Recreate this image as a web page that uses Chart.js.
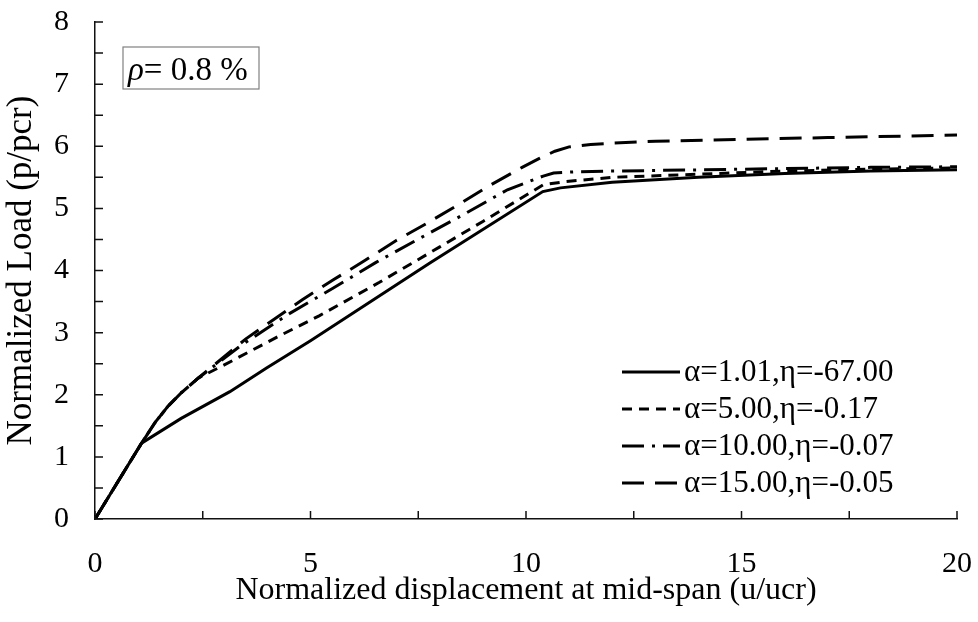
<!DOCTYPE html>
<html>
<head>
<meta charset="utf-8">
<script src="https://cdn.jsdelivr.net/npm/chart.js@4.4.0/dist/chart.umd.min.js"></script>
<style>
  html, body { margin: 0; padding: 0; background: #fff; }
  #wrap { width: 978px; height: 622px; }
</style>
</head>
<body>
<div id="wrap"><canvas id="chart"></canvas></div>
<script>
// data
const seriesLabels = ['α=1.01,η=-67.00', 'α=5.00,η=-0.17', 'α=10.00,η=-0.07', 'α=15.00,η=-0.05'];

const solidX = [0, 1.08, 2.0, 3.13, 3.98, 5.0, 7.77, 10.39, 10.8, 12, 14, 16, 18, 20];
const solidY = [0, 1.22, 1.62, 2.05, 2.43, 2.87, 4.12, 5.27, 5.33, 5.42, 5.50, 5.56, 5.60, 5.62];

const dashX = [0, 1.08, 1.4, 1.7, 2.0, 2.4, 3.0, 4.2, 5.2, 6.6, 8.0, 9.0, 10.4, 10.9, 12, 14, 16, 18, 20];
const dashY = [0, 1.22, 1.56, 1.82, 2.03, 2.27, 2.48, 2.92, 3.27, 3.81, 4.38, 4.79, 5.38, 5.43, 5.50, 5.55, 5.60, 5.63, 5.65];

const dashDotX = [0, 1.08, 1.4, 1.7, 2.0, 2.4, 3.4, 4.52, 5.51, 6.52, 7.54, 8.55, 9.57, 10.4, 10.64, 11.2, 12, 14, 16, 18, 20];
const dashDotY = [0, 1.22, 1.56, 1.82, 2.03, 2.27, 2.80, 3.31, 3.71, 4.13, 4.52, 4.90, 5.30, 5.52, 5.57, 5.59, 5.60, 5.62, 5.64, 5.66, 5.67];

const longDashX = [0, 1.08, 1.4, 1.7, 2.0, 2.4, 3.5, 4.81, 5.53, 6.26, 6.98, 7.70, 8.43, 9.16, 9.91, 10.3, 10.67, 11.0, 11.5, 12, 13, 15, 17, 20];
const longDashY = [0, 1.22, 1.56, 1.82, 2.03, 2.27, 2.90, 3.53, 3.85, 4.16, 4.48, 4.76, 5.06, 5.37, 5.66, 5.80, 5.92, 5.99, 6.03, 6.05, 6.08, 6.11, 6.14, 6.18];

const xTicks = [0, 5, 10, 15, 20];
const yTicks = [0, 1, 2, 3, 4, 5, 6, 7, 8];

const serif = '"Liberation Serif", "Times New Roman", serif';

function pts(xs, ys) {
    return xs.map((x, i) => ({ x: x, y: ys[i] }));
}

function makeSet(label, xs, ys, dash) {
    return {
        label: label,
        data: pts(xs, ys),
        borderColor: '#000',
        borderWidth: 3,
        borderDash: dash,
        pointRadius: 0,
        tension: 0,
        fill: false
    };
}

// inside tick marks, like the original figure
const innerTicks = {
    id: 'innerTicks',
    afterDraw(chart) {
        const ctx = chart.ctx;
        const xs = chart.scales.x;
        const ys = chart.scales.y;
        const len = 8;
        ctx.save();
        ctx.strokeStyle = '#111';
        ctx.lineWidth = 1.5;
        ctx.setLineDash([]);
        ctx.beginPath();
        xs.ticks.forEach(t => {
            const px = xs.getPixelForValue(t.value);
            ctx.moveTo(px, ys.bottom);
            ctx.lineTo(px, ys.bottom - len);
        });
        ys.ticks.forEach(t => {
            const py = ys.getPixelForValue(t.value);
            ctx.moveTo(xs.left, py);
            ctx.lineTo(xs.left + len, py);
        });
        ctx.stroke();
        ctx.restore();
    }
};

// legend in the lower right of the plot
const lineLegend = {
    id: 'lineLegend',
    afterDraw(chart, args, opts) {
        const ctx = chart.ctx;
        ctx.save();
        ctx.font = opts.fontSize + 'px ' + serif;
        ctx.textBaseline = 'middle';
        ctx.textAlign = 'left';
        ctx.fillStyle = '#000';
        chart.data.datasets.forEach((ds, i) => {
            const y = opts.top + i * opts.rowGap;
            ctx.beginPath();
            ctx.setLineDash(ds.borderDash || []);
            ctx.lineWidth = ds.borderWidth;
            ctx.strokeStyle = ds.borderColor;
            ctx.moveTo(opts.left, y);
            ctx.lineTo(opts.left + opts.lineLen, y);
            ctx.stroke();
            ctx.fillText(ds.label, opts.left + opts.lineLen + 4, y + 1);
        });
        ctx.restore();
    }
};

// boxed note "ρ = 0.8 %"
const noteBox = {
    id: 'noteBox',
    afterDraw(chart, args, opts) {
        const ctx = chart.ctx;
        ctx.save();
        ctx.strokeStyle = '#808080';
        ctx.lineWidth = 1.2;
        ctx.setLineDash([]);
        ctx.strokeRect(opts.x, opts.y, opts.w, opts.h);
        ctx.fillStyle = '#000';
        ctx.textBaseline = 'alphabetic';
        ctx.font = 'italic ' + opts.fontSize + 'px ' + serif;
        ctx.fillText('ρ', opts.x + 5, opts.y + 33);
        const w = ctx.measureText('ρ').width;
        ctx.font = opts.fontSize + 'px ' + serif;
        ctx.fillText('= 0.8 %', opts.x + 5 + w, opts.y + 33);
        ctx.restore();
    }
};

new Chart(document.getElementById('chart'), {
    type: 'line',
    data: {
        datasets: [
            makeSet(seriesLabels[0], solidX, solidY, []),
            makeSet(seriesLabels[1], dashX, dashY, [10, 7]),
            makeSet(seriesLabels[2], dashDotX, dashDotY, [22, 8, 3, 8]),
            makeSet(seriesLabels[3], longDashX, longDashY, [22, 11])
        ]
    },
    options: {
        responsive: true,
        maintainAspectRatio: false,
        animation: false,
        devicePixelRatio: 1,
        layout: {
            padding: { top: 22, right: 21, left: 0, bottom: 0 }
        },
        plugins: {
            legend: { display: false },
            tooltip: { enabled: false },
            lineLegend: { left: 622, top: 372, rowGap: 37, lineLen: 58, fontSize: 31 },
            noteBox: { x: 123, y: 47, w: 136, h: 42, fontSize: 33 }
        },
        scales: {
            x: {
                type: 'linear',
                min: 0,
                max: 20,
                afterFit: function(scale) {
                    scale.height = 103;
                    scale.paddingLeft = 0;
                    scale.paddingRight = 0;
                },
                border: { display: true, color: '#111', width: 1.5 },
                grid: { display: false, drawTicks: false },
                ticks: {
                    stepSize: 2.5,
                    autoSkip: false,
                    maxRotation: 0,
                    padding: 27,
                    color: '#000',
                    font: { family: serif, size: 30 },
                    callback: function(value) {
                        return xTicks.includes(value) ? String(value) : '';
                    }
                },
                title: {
                    display: true,
                    text: 'Normalized displacement at mid-span (u/ucr)',
                    color: '#000',
                    font: { family: serif, size: 32 },
                    padding: { top: 0, bottom: 12 }
                }
            },
            y: {
                type: 'linear',
                min: 0,
                max: 8,
                afterFit: function(scale) {
                    scale.width = 95;
                    scale.paddingTop = 0;
                    scale.paddingBottom = 0;
                },
                border: { display: true, color: '#111', width: 1.5 },
                grid: { display: false, drawTicks: false },
                ticks: {
                    stepSize: 0.5,
                    autoSkip: false,
                    padding: 26,
                    color: '#000',
                    font: { family: serif, size: 30 },
                    callback: function(value) {
                        return yTicks.includes(value) ? String(value) : '';
                    }
                },
                title: {
                    display: true,
                    text: 'Normalized Load (p/pcr)',
                    color: '#000',
                    font: { family: serif, size: 35 },
                    padding: { top: 1, bottom: 0 }
                }
            }
        }
    },
    plugins: [innerTicks, lineLegend, noteBox]
});
</script>
</body>
</html>
